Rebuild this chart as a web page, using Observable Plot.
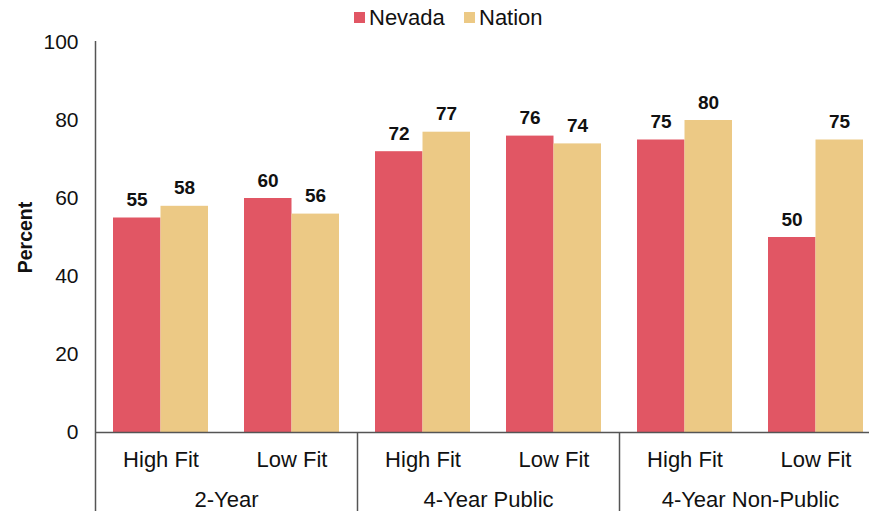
<!DOCTYPE html>
<html>
<head>
<meta charset="utf-8">
<script src="https://cdn.jsdelivr.net/npm/d3@7"></script>
<script src="https://cdn.jsdelivr.net/npm/@observablehq/plot@0.6"></script>
<style>
  html, body { margin: 0; padding: 0; background: white; }
  body { width: 869px; height: 511px; overflow: hidden; font-family: Helvetica, Arial, "Liberation Sans", sans-serif; }
  #legend { position: relative; z-index: 2; height: 20px; width: 869px; font-size: 22px; color: #111; }
  #legend .sw { position: absolute; top: 12px; width: 11px; height: 11px; }
  #legend .lb { position: absolute; top: 6px; line-height: 24px; }
  #chart { position: relative; z-index: 1; }
</style>
</head>
<body>
<div id="legend"></div>
<div id="chart"></div>
<script>
const groups = ["2-Year", "4-Year Public", "4-Year Non-Public"];
const fits = ["High Fit", "Low Fit"];
const seriesNames = ["Nevada", "Nation"];
const seriesColors = ["#E15664", "#ECC985"];
const nevada = [55, 60, 72, 76, 75, 50];
const nation = [58, 56, 77, 74, 80, 75];
const yTicks = [0, 20, 40, 60, 80, 100];

const cats = groups.flatMap(g => fits.map(f => `${g}|${f}`));
const rows = cats.map((c, i) => ({cat: c, group: c.split("|")[0], fit: c.split("|")[1], Nevada: nevada[i], Nation: nation[i]}));
const groupFirst = groups.map(g => `${g}|${fits[0]}`);

// legend
const legend = document.getElementById("legend");
const legendPos = [[354, 369], [464, 479]];
seriesNames.forEach((s, i) => {
  const sw = document.createElement("div");
  sw.className = "sw"; sw.style.left = legendPos[i][0] + "px"; sw.style.background = seriesColors[i];
  const lb = document.createElement("div");
  lb.className = "lb"; lb.style.left = legendPos[i][1] + "px"; lb.textContent = s;
  legend.appendChild(sw); legend.appendChild(lb);
});

const W = 869, H = 491, mt = 22, mb = 79, ml = 95;
const band = 131; // band step in px
const axisColor = "#555";

const chart = Plot.plot({
  width: W,
  height: H,
  marginTop: mt,
  marginBottom: mb,
  marginLeft: ml,
  marginRight: 0,
  style: {fontFamily: "Helvetica, Arial, 'Liberation Sans', sans-serif", fontSize: "21px", color: "#111", background: "transparent"},
  x: {type: "band", domain: cats, range: [ml, ml + band * cats.length], padding: 0, axis: null},
  y: {domain: [0, 100], axis: null},
  marks: [
    Plot.barY(rows, {x: "cat", y: "Nevada", fill: seriesColors[0], insetLeft: 18, insetRight: 65.5}),
    Plot.barY(rows, {x: "cat", y: "Nation", fill: seriesColors[1], insetLeft: 65.5, insetRight: 18}),
    Plot.text(rows, {x: "cat", y: "Nevada", text: d => String(d.Nevada), dx: -24, dy: -12, lineAnchor: "bottom", fontWeight: "bold", fontSize: 19}),
    Plot.text(rows, {x: "cat", y: "Nation", text: d => String(d.Nation), dx: 23.5, dy: -12, lineAnchor: "bottom", fontWeight: "bold", fontSize: 19}),
    Plot.axisY({ticks: yTicks, tickSize: 0, tickPadding: 17, label: null, fontSize: 21}),
    Plot.text(["Percent"], {frameAnchor: "left", textAnchor: "middle", dx: -70, rotate: -90, text: d => d, fontWeight: "bold", fontSize: 19.5}),
    // x axis line
    Plot.ruleY([0], {stroke: axisColor, strokeWidth: 1.5}),
    // y axis line (extends to bottom)
    Plot.ruleX([cats[0]], {dx: -band / 2, insetTop: -1, insetBottom: -mb, stroke: axisColor, strokeWidth: 1.5}),
    // group separators below axis
    Plot.ruleX(groupFirst.slice(1), {dx: -band / 2, insetTop: H - mt - mb, insetBottom: -mb, stroke: axisColor, strokeWidth: 1.5}),
    Plot.text(rows, {x: "cat", text: "fit", frameAnchor: "bottom", dy: 34, lineAnchor: "bottom", fontSize: 22}),
    Plot.text(groupFirst, {x: d => d, text: d => d.split("|")[0], frameAnchor: "bottom", dx: band / 2, dy: 74, lineAnchor: "bottom", fontSize: 22})
  ]
});
document.getElementById("chart").appendChild(chart);
</script>
</body>
</html>
